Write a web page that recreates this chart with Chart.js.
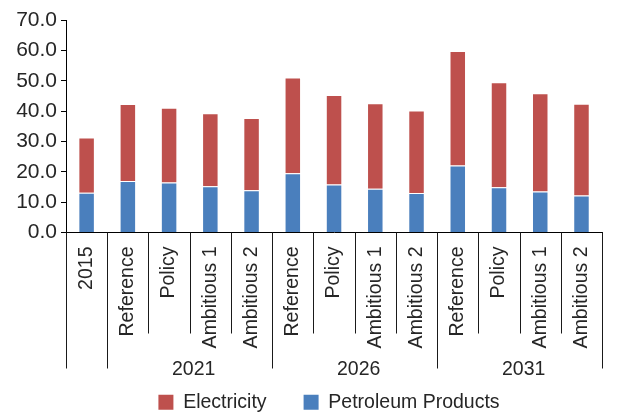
<!DOCTYPE html>
<html>
<head>
<meta charset="utf-8">
<script src="https://cdn.jsdelivr.net/npm/chart.js@4.4.1/dist/chart.umd.min.js"></script>
<style>
  html, body { margin: 0; padding: 0; background: #fff; }
  #wrap { width: 619px; height: 415px; }
</style>
</head>
<body>
<div id="wrap"><canvas id="chart"></canvas></div>
<script>
// Scenario categories and the year each one belongs to ('' = stands alone)
const categories = [
  "2015",
  "Reference", "Policy", "Ambitious 1", "Ambitious 2",
  "Reference", "Policy", "Ambitious 1", "Ambitious 2",
  "Reference", "Policy", "Ambitious 1", "Ambitious 2"
];
const categoryGroups = [
  "",
  "2021", "2021", "2021", "2021",
  "2026", "2026", "2026", "2026",
  "2031", "2031", "2031", "2031"
];

// Series values
const petroleum = [13.1, 17.0, 16.5, 15.2, 13.9, 19.5, 15.8, 14.4, 13.0, 22.1, 14.9, 13.5, 12.2];
const electricity = [18.2, 25.3, 24.6, 24.1, 23.8, 31.6, 29.5, 28.2, 27.2, 37.7, 34.6, 32.4, 30.2];

// Value axis
const yMin = 0;
const yMax = 70;
const yStep = 10;

const FONT = "'Liberation Sans', Arial, sans-serif";
const TEXT_COLOR = "#262626";

// Draws the separators under the category axis and the year labels
const groupAxisPlugin = {
  id: "groupAxis",
  afterLayout(chart) {
    // centre the legend row under the bars rather than the canvas
    const shift = 18;
    chart.legend.left += shift;
    chart.legend.right += shift;
  },
  afterDraw(chart) {
    const x = chart.scales.x;
    const ctx = chart.ctx;
    const top = x.top;
    const n = categories.length;

    ctx.save();
    ctx.strokeStyle = "#1a1a1a";
    ctx.lineWidth = 1;
    for (let i = 0; i <= n; i++) {
      const px = Math.round(x.getPixelForValue(i - 0.5)) + 0.5;
      const edge = i === 0 || i === n || categoryGroups[i] !== categoryGroups[i - 1];
      const len = edge ? 136 : 101;
      ctx.beginPath();
      ctx.moveTo(px, top);
      ctx.lineTo(px, top + len);
      ctx.stroke();
    }

    ctx.fillStyle = TEXT_COLOR;
    ctx.font = "19.5px " + FONT;
    ctx.textAlign = "center";
    ctx.textBaseline = "middle";
    let start = 0;
    for (let i = 1; i <= n; i++) {
      if (i === n || categoryGroups[i] !== categoryGroups[start]) {
        if (categoryGroups[start]) {
          const cx = (x.getPixelForValue(start - 0.5) + x.getPixelForValue(i - 0.5)) / 2;
          // year labels sit a few pixels right of the span centre
          ctx.fillText(categoryGroups[start], cx + 4, top + 137);
        }
        start = i;
      }
    }
    ctx.restore();
  }
};

new Chart(document.getElementById("chart"), {
  type: "bar",
  data: {
    labels: categories,
    datasets: [
      {
        label: "Petroleum Products",
        data: petroleum,
        backgroundColor: "#4A7FBD",
        borderColor: "rgba(255,255,255,0.4)",
        borderWidth: 1
      },
      {
        label: "Electricity",
        data: electricity,
        backgroundColor: "#BE504D",
        borderColor: "rgba(255,255,255,0.4)",
        borderWidth: 1
      }
    ]
  },
  options: {
    responsive: true,
    maintainAspectRatio: false,
    animation: false,
    layout: {
      padding: { left: 6, right: 3, top: 20, bottom: -7 }
    },
    datasets: {
      bar: { barPercentage: 0.4, categoryPercentage: 1 }
    },
    scales: {
      x: {
        stacked: true,
        grid: { display: true, drawOnChartArea: false, drawTicks: false },
        border: { display: true, color: "#000", width: 1 },
        ticks: {
          autoSkip: false,
          minRotation: 90,
          maxRotation: 90,
          padding: 14,
          color: TEXT_COLOR,
          font: { family: FONT, size: 19.5 }
        },
        afterFit(scale) {
          scale.height = 123;
        }
      },
      y: {
        stacked: true,
        min: yMin,
        max: yMax,
        grid: { drawOnChartArea: false, drawTicks: true, tickLength: 5, tickColor: "#000" },
        border: { display: true, color: "#000", width: 1 },
        ticks: {
          stepSize: yStep,
          padding: 4,
          color: TEXT_COLOR,
          font: { family: FONT, size: 21 },
          callback: (v) => v.toFixed(1)
        },
        afterFit(scale) {
          scale.width = 60;
        }
      }
    },
    plugins: {
      legend: {
        position: "bottom",
        reverse: true,
        labels: {
          boxWidth: 15,
          boxHeight: 15,
          padding: 37,
          color: TEXT_COLOR,
          font: { family: FONT, size: 19.5 },
          generateLabels: (chart) =>
            Chart.defaults.plugins.legend.labels.generateLabels(chart).map((l) => ({ ...l, lineWidth: 0 }))
        }
      },
      tooltip: { enabled: false }
    }
  },
  plugins: [groupAxisPlugin]
});
</script>
</body>
</html>
